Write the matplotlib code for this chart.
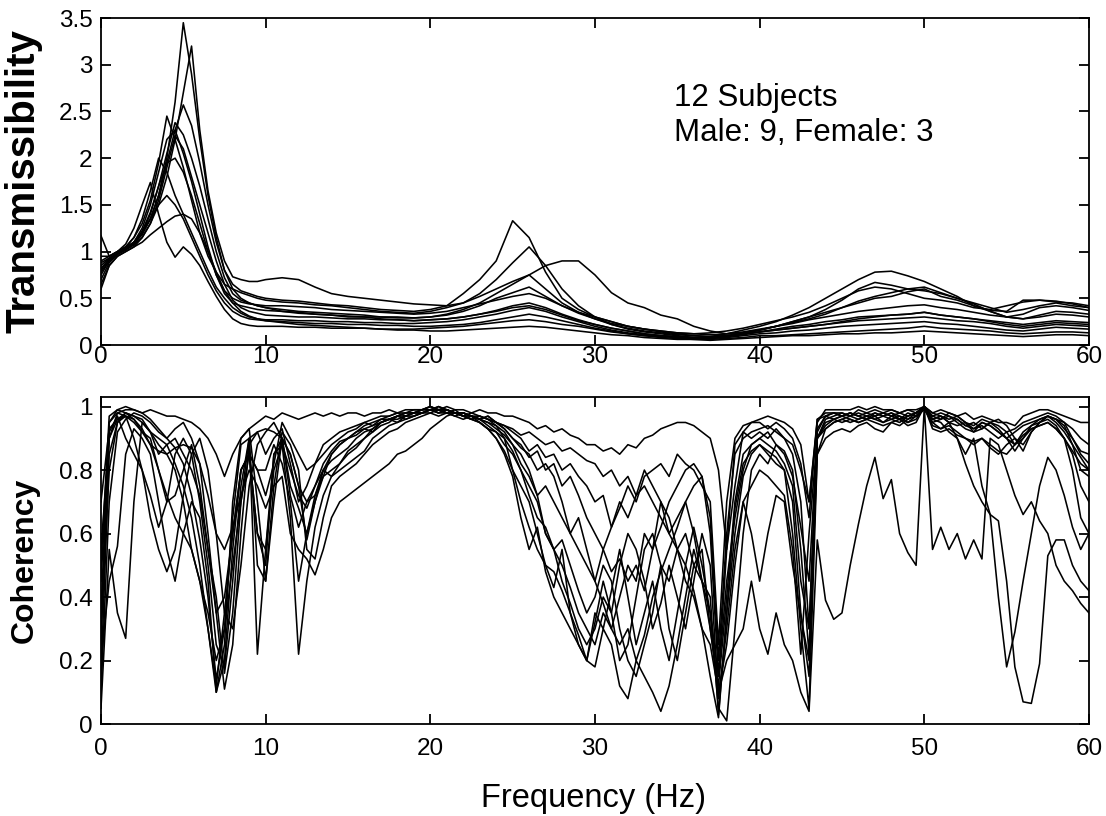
import numpy as np
import matplotlib
matplotlib.use("Agg")
import matplotlib.pyplot as plt

plt.rcParams['font.family'] = ['Liberation Sans', 'DejaVu Sans']

# ---------------- frequency grids ----------------
freq_T = np.concatenate([np.arange(0, 10.01, 0.5), np.arange(11, 61, 1)])   # 71 points
freq_C = np.arange(0, 60.01, 0.5)                                            # 121 points

# ---------------- transmissibility (12 subjects) ----------------
T1 = [0.85,0.93,0.98,1.02,1.08,1.18,1.35,1.6,2.0,2.6,3.45,2.9,2.2,1.6,1.15,0.8,0.6,0.5,0.45,0.42,0.4,
      0.36,0.35,0.33,0.32,0.3,0.3,0.28,0.27,0.26,0.27,
      0.28,0.3,0.33,0.36,0.4,0.42,0.38,0.32,0.26,0.22,
      0.18,0.15,0.12,0.1,0.08,0.07,0.08,0.1,0.12,0.14,
      0.16,0.18,0.2,0.22,0.25,0.28,0.3,0.32,0.33,0.35,
      0.32,0.3,0.28,0.25,0.22,0.2,0.22,0.24,0.23,0.22]
T2 = [0.78,0.9,0.97,1.02,1.07,1.15,1.3,1.5,1.8,2.2,2.7,3.2,2.3,1.65,1.2,0.9,0.73,0.7,0.68,0.68,0.7,
      0.72,0.7,0.62,0.55,0.52,0.5,0.48,0.46,0.44,0.43,
      0.42,0.45,0.55,0.7,0.88,1.05,0.85,0.6,0.42,0.3,
      0.22,0.17,0.14,0.12,0.1,0.08,0.07,0.09,0.12,0.16,
      0.2,0.24,0.28,0.33,0.4,0.47,0.52,0.56,0.6,0.62,
      0.56,0.5,0.44,0.36,0.3,0.33,0.4,0.42,0.4,0.37]
T3 = [0.9,0.95,1.0,1.05,1.1,1.2,1.35,1.6,1.95,2.3,2.57,2.35,1.95,1.5,1.1,0.8,0.65,0.58,0.55,0.52,0.5,
      0.48,0.47,0.45,0.43,0.42,0.4,0.38,0.37,0.36,0.38,
      0.42,0.55,0.7,0.9,1.33,1.15,0.78,0.5,0.38,0.3,
      0.25,0.2,0.17,0.14,0.12,0.1,0.09,0.12,0.16,0.2,
      0.25,0.32,0.4,0.5,0.6,0.7,0.78,0.79,0.74,0.68,
      0.6,0.52,0.42,0.37,0.36,0.48,0.48,0.46,0.45,0.42]
T4 = [1.17,0.95,1.0,1.05,1.15,1.3,1.55,1.95,2.45,2.2,1.9,1.55,1.2,0.95,0.78,0.65,0.6,0.56,0.53,0.5,0.48,
      0.46,0.45,0.43,0.42,0.4,0.38,0.36,0.35,0.34,0.36,
      0.4,0.45,0.52,0.6,0.68,0.75,0.85,0.9,0.9,0.75,
      0.56,0.45,0.4,0.32,0.28,0.2,0.15,0.12,0.13,0.16,
      0.2,0.25,0.3,0.38,0.48,0.6,0.67,0.64,0.6,0.58,
      0.55,0.5,0.45,0.4,0.35,0.38,0.42,0.45,0.42,0.4]
T5 = [0.7,0.88,0.97,1.02,1.08,1.2,1.4,1.7,2.05,2.38,2.25,2.0,1.7,1.35,1.0,0.72,0.55,0.48,0.45,0.42,0.4,
      0.38,0.36,0.35,0.34,0.33,0.32,0.3,0.3,0.29,0.3,
      0.33,0.38,0.45,0.55,0.65,0.75,0.6,0.45,0.35,0.28,
      0.22,0.18,0.15,0.13,0.11,0.1,0.09,0.1,0.13,0.16,
      0.2,0.25,0.3,0.35,0.4,0.45,0.5,0.52,0.57,0.6,
      0.52,0.48,0.42,0.36,0.3,0.28,0.32,0.36,0.35,0.33]
T6 = [0.75,0.9,0.98,1.03,1.1,1.25,1.5,1.85,2.2,2.3,2.05,1.75,1.4,1.05,0.75,0.55,0.45,0.42,0.4,0.38,0.37,
      0.36,0.34,0.33,0.32,0.31,0.3,0.3,0.29,0.29,0.3,
      0.32,0.36,0.42,0.5,0.56,0.62,0.52,0.42,0.34,0.28,
      0.23,0.2,0.17,0.15,0.13,0.12,0.11,0.12,0.14,0.17,
      0.2,0.23,0.27,0.3,0.33,0.36,0.38,0.4,0.42,0.43,
      0.4,0.38,0.35,0.32,0.3,0.28,0.3,0.33,0.32,0.3]
T7 = [0.65,0.85,0.95,1.0,1.05,1.15,1.3,1.55,1.9,2.24,2.1,1.8,1.5,1.2,0.9,0.65,0.48,0.4,0.36,0.34,0.32,
      0.31,0.3,0.3,0.29,0.28,0.28,0.27,0.27,0.26,0.27,
      0.28,0.3,0.33,0.37,0.42,0.45,0.4,0.33,0.27,0.22,
      0.18,0.15,0.12,0.1,0.09,0.08,0.08,0.09,0.11,0.14,
      0.17,0.2,0.22,0.25,0.27,0.3,0.31,0.32,0.33,0.35,
      0.32,0.3,0.28,0.26,0.24,0.22,0.24,0.26,0.25,0.24]
T8 = [0.8,0.92,0.98,1.05,1.15,1.35,1.65,2.0,1.85,1.6,1.4,1.2,1.0,0.8,0.62,0.5,0.4,0.34,0.3,0.28,0.27,
      0.27,0.26,0.26,0.25,0.25,0.24,0.24,0.23,0.23,0.24,
      0.25,0.27,0.3,0.33,0.37,0.4,0.36,0.3,0.25,0.2,
      0.16,0.13,0.11,0.1,0.09,0.08,0.09,0.1,0.12,0.14,
      0.16,0.18,0.2,0.22,0.24,0.26,0.27,0.28,0.29,0.3,
      0.28,0.26,0.25,0.23,0.2,0.18,0.2,0.22,0.21,0.2]
T9 = [0.95,0.95,1.0,1.08,1.25,1.5,1.74,1.4,1.1,0.94,1.05,0.97,0.85,0.68,0.52,0.38,0.28,0.23,0.21,0.2,0.2,
      0.2,0.19,0.19,0.18,0.18,0.18,0.17,0.17,0.17,0.18,
      0.19,0.2,0.22,0.24,0.26,0.27,0.25,0.22,0.2,0.17,
      0.14,0.12,0.1,0.09,0.08,0.07,0.07,0.08,0.1,0.12,
      0.13,0.15,0.16,0.18,0.2,0.21,0.22,0.23,0.24,0.25,
      0.23,0.22,0.2,0.18,0.16,0.15,0.17,0.19,0.18,0.17]
T10 = [0.88,0.93,0.98,1.03,1.1,1.2,1.35,1.5,1.6,1.5,1.35,1.15,0.95,0.75,0.58,0.45,0.36,0.31,0.28,0.27,0.26,
       0.25,0.24,0.23,0.23,0.22,0.22,0.21,0.21,0.2,0.2,
       0.21,0.22,0.24,0.27,0.3,0.33,0.3,0.26,0.22,0.18,
       0.15,0.12,0.1,0.08,0.07,0.06,0.06,0.07,0.08,0.1,
       0.1,0.11,0.12,0.13,0.14,0.15,0.16,0.17,0.18,0.2,
       0.18,0.17,0.16,0.15,0.13,0.12,0.13,0.14,0.14,0.13]
T11 = [0.6,0.85,0.95,1.0,1.05,1.1,1.18,1.25,1.32,1.38,1.4,1.35,1.2,1.0,0.78,0.58,0.45,0.36,0.31,0.28,0.26,
       0.24,0.22,0.21,0.2,0.19,0.18,0.17,0.16,0.16,0.15,
       0.15,0.16,0.17,0.18,0.19,0.2,0.19,0.17,0.15,0.13,
       0.11,0.1,0.08,0.07,0.06,0.06,0.05,0.06,0.07,0.08,
       0.09,0.1,0.1,0.11,0.12,0.12,0.13,0.13,0.14,0.15,
       0.14,0.13,0.12,0.11,0.1,0.09,0.1,0.11,0.11,0.1]
T12 = [0.82,0.92,0.98,1.03,1.1,1.22,1.42,1.7,1.95,2.0,1.85,1.6,1.3,1.0,0.75,0.58,0.5,0.46,0.44,0.43,0.42,
       0.42,0.41,0.4,0.38,0.37,0.36,0.35,0.34,0.33,0.34,
       0.36,0.4,0.44,0.48,0.52,0.55,0.5,0.42,0.35,0.3,
       0.25,0.2,0.17,0.15,0.13,0.12,0.13,0.15,0.18,0.22,
       0.26,0.3,0.35,0.42,0.5,0.58,0.62,0.6,0.55,0.5,
       0.48,0.45,0.4,0.38,0.42,0.46,0.48,0.47,0.44,0.4]
trans_curves = [T1, T2, T3, T4, T5, T6, T7, T8, T9, T10, T11, T12]

# ---------------- coherency (12 subjects), 0.5 Hz steps ----------------
K1 = [0.55,0.9,0.98,0.99,0.99,0.98,0.99,0.98,0.97,0.97,
      0.96,0.95,0.93,0.9,0.85,0.78,0.85,0.9,0.93,0.95,
      0.97,0.96,0.98,0.97,0.96,0.97,0.98,0.97,0.98,0.97,
      0.98,0.98,0.97,0.98,0.98,0.99,0.98,0.99,0.99,0.99,
      1.0,0.99,1.0,0.99,0.99,0.98,0.99,0.98,0.98,0.97,
      0.97,0.96,0.95,0.93,0.94,0.92,0.93,0.91,0.9,0.88,
      0.88,0.86,0.87,0.85,0.88,0.87,0.9,0.91,0.93,0.94,
      0.95,0.95,0.94,0.92,0.9,0.8,0.55,0.75,0.92,0.95,
      0.96,0.97,0.96,0.95,0.93,0.88,0.7,0.95,0.99,0.99,
      0.99,0.99,1.0,0.99,1.0,0.99,0.99,0.98,0.99,0.98,
      1.0,0.98,0.99,0.98,0.97,0.98,0.96,0.97,0.96,0.95,
      0.95,0.94,0.97,0.98,0.99,0.99,0.98,0.97,0.96,0.95,
      0.95]
K2 = [0.05,0.55,0.35,0.27,0.7,0.95,0.92,0.88,0.85,0.8,
      0.7,0.55,0.45,0.3,0.12,0.35,0.6,0.8,0.85,0.6,
      0.5,0.85,0.9,0.75,0.68,0.6,0.7,0.8,0.85,0.88,
      0.9,0.92,0.93,0.92,0.95,0.96,0.95,0.97,0.97,0.98,
      0.99,0.98,0.98,0.97,0.98,0.97,0.96,0.95,0.94,0.92,
      0.88,0.85,0.8,0.72,0.6,0.55,0.58,0.5,0.42,0.35,
      0.4,0.5,0.45,0.3,0.2,0.15,0.25,0.35,0.5,0.45,
      0.55,0.5,0.42,0.3,0.15,0.02,0.35,0.6,0.78,0.85,
      0.88,0.86,0.84,0.8,0.6,0.3,0.05,0.85,0.9,0.92,
      0.93,0.92,0.94,0.95,0.93,0.92,0.95,0.94,0.96,0.97,
      0.99,0.95,0.96,0.97,0.95,0.93,0.92,0.95,0.94,0.92,
      0.9,0.88,0.92,0.94,0.95,0.96,0.94,0.9,0.85,0.75,
      0.7]
K3 = [0.2,0.45,0.56,0.85,0.93,0.9,0.85,0.7,0.55,0.45,
      0.6,0.7,0.65,0.45,0.1,0.2,0.55,0.8,0.85,0.8,
      0.8,0.88,0.82,0.7,0.45,0.6,0.72,0.8,0.78,0.82,
      0.86,0.88,0.9,0.92,0.94,0.95,0.97,0.96,0.97,0.98,
      0.98,0.99,0.98,0.99,0.97,0.96,0.95,0.93,0.92,0.9,
      0.8,0.75,0.7,0.6,0.5,0.48,0.42,0.35,0.28,0.2,
      0.32,0.45,0.35,0.2,0.25,0.4,0.55,0.6,0.5,0.3,
      0.2,0.35,0.5,0.55,0.3,0.1,0.25,0.5,0.7,0.75,
      0.8,0.78,0.75,0.72,0.55,0.22,0.6,0.9,0.93,0.95,
      0.96,0.97,0.98,0.97,0.96,0.97,0.98,0.96,0.97,0.98,
      1.0,0.97,0.96,0.98,0.97,0.95,0.93,0.94,0.92,0.9,
      0.92,0.93,0.95,0.96,0.97,0.98,0.97,0.95,0.93,0.9,
      0.88]
K4 = [0.3,0.8,0.95,0.97,0.9,0.8,0.65,0.55,0.48,0.55,
      0.72,0.85,0.9,0.8,0.6,0.35,0.3,0.5,0.75,0.88,
      0.92,0.95,0.9,0.85,0.75,0.7,0.72,0.78,0.8,0.82,
      0.85,0.87,0.9,0.93,0.95,0.96,0.97,0.98,0.98,0.99,
      1.0,0.99,0.99,0.98,0.98,0.97,0.97,0.96,0.95,0.93,
      0.9,0.87,0.85,0.8,0.82,0.78,0.7,0.6,0.65,0.55,
      0.45,0.55,0.62,0.7,0.65,0.72,0.8,0.75,0.7,0.6,
      0.65,0.7,0.6,0.45,0.3,0.12,0.4,0.7,0.85,0.88,
      0.9,0.92,0.88,0.85,0.78,0.62,0.45,0.92,0.97,0.98,
      0.97,0.98,0.97,0.98,0.99,0.98,0.97,0.98,0.99,0.99,
      1.0,0.97,0.98,0.97,0.96,0.94,0.95,0.93,0.95,0.96,
      0.94,0.9,0.88,0.92,0.95,0.97,0.96,0.94,0.88,0.8,
      0.78]
K5 = [0.45,0.92,0.97,0.9,0.85,0.8,0.72,0.62,0.7,0.85,
      0.9,0.85,0.7,0.5,0.25,0.18,0.45,0.75,0.9,0.92,
      0.85,0.9,0.93,0.82,0.7,0.75,0.82,0.85,0.88,0.9,
      0.92,0.93,0.95,0.94,0.96,0.97,0.98,0.97,0.98,0.99,
      0.99,1.0,0.99,0.98,0.98,0.97,0.96,0.97,0.95,0.93,
      0.9,0.88,0.84,0.86,0.8,0.82,0.75,0.78,0.72,0.65,
      0.6,0.55,0.48,0.52,0.45,0.5,0.42,0.55,0.62,0.7,
      0.75,0.8,0.82,0.78,0.6,0.15,0.55,0.88,0.92,0.9,
      0.92,0.9,0.93,0.9,0.85,0.7,0.3,0.9,0.96,0.97,
      0.98,0.97,0.96,0.97,0.98,0.97,0.96,0.95,0.97,0.98,
      1.0,0.96,0.97,0.95,0.94,0.95,0.92,0.93,0.95,0.94,
      0.92,0.88,0.9,0.93,0.94,0.95,0.93,0.9,0.86,0.82,
      0.8]
K6 = [0.15,0.85,0.95,0.98,0.97,0.95,0.92,0.9,0.88,0.82,
      0.75,0.65,0.5,0.3,0.1,0.25,0.7,0.9,0.93,0.7,
      0.45,0.75,0.92,0.88,0.8,0.55,0.52,0.65,0.75,0.78,
      0.8,0.82,0.85,0.88,0.9,0.92,0.93,0.95,0.96,0.97,
      0.98,0.97,0.98,0.97,0.96,0.97,0.95,0.93,0.9,0.85,
      0.78,0.65,0.55,0.62,0.48,0.4,0.35,0.3,0.25,0.2,
      0.18,0.3,0.25,0.12,0.08,0.2,0.15,0.1,0.04,0.12,
      0.25,0.4,0.55,0.45,0.35,0.05,0.01,0.3,0.6,0.8,
      0.85,0.82,0.88,0.86,0.8,0.55,0.22,0.93,0.97,0.96,
      0.97,0.96,0.95,0.96,0.97,0.95,0.96,0.97,0.95,0.96,
      1.0,0.95,0.93,0.94,0.92,0.9,0.88,0.9,0.87,0.85,
      0.88,0.9,0.86,0.92,0.95,0.97,0.96,0.95,0.9,0.85,
      0.82]
K7 = [0.3,0.9,0.96,0.98,0.96,0.93,0.88,0.8,0.72,0.65,
      0.6,0.55,0.45,0.35,0.2,0.3,0.5,0.7,0.85,0.8,
      0.72,0.82,0.95,0.9,0.85,0.8,0.82,0.88,0.9,0.92,
      0.93,0.94,0.95,0.96,0.97,0.97,0.98,0.98,0.99,0.99,
      0.99,1.0,0.99,0.98,0.98,0.97,0.96,0.94,0.92,0.88,
      0.85,0.8,0.75,0.7,0.6,0.55,0.5,0.43,0.35,0.3,
      0.25,0.35,0.3,0.4,0.5,0.45,0.6,0.55,0.7,0.65,
      0.55,0.45,0.4,0.3,0.25,0.1,0.2,0.25,0.3,0.45,
      0.3,0.22,0.35,0.25,0.2,0.1,0.04,0.58,0.39,0.33,
      0.35,0.5,0.63,0.75,0.84,0.71,0.77,0.6,0.54,0.5,
      1.0,0.55,0.62,0.55,0.6,0.52,0.58,0.52,0.9,0.88,
      0.8,0.72,0.66,0.7,0.64,0.6,0.5,0.45,0.42,0.38,
      0.35]
K8 = [0.1,0.7,0.92,0.96,0.98,0.97,0.95,0.92,0.9,0.93,
      0.95,0.9,0.82,0.6,0.35,0.11,0.25,0.6,0.88,0.92,
      0.93,0.92,0.9,0.72,0.62,0.7,0.75,0.82,0.86,0.89,
      0.9,0.92,0.94,0.95,0.96,0.96,0.97,0.98,0.98,0.99,
      1.0,0.99,0.98,0.98,0.97,0.97,0.96,0.95,0.93,0.91,
      0.88,0.82,0.78,0.72,0.75,0.7,0.65,0.6,0.55,0.5,
      0.45,0.38,0.3,0.25,0.3,0.2,0.28,0.4,0.48,0.55,
      0.62,0.7,0.75,0.78,0.65,0.2,0.6,0.85,0.9,0.92,
      0.93,0.94,0.92,0.9,0.88,0.8,0.7,0.96,0.98,0.98,
      0.97,0.98,0.97,0.96,0.97,0.98,0.97,0.96,0.98,0.97,
      1.0,0.96,0.95,0.92,0.9,0.82,0.75,0.7,0.66,0.64,
      0.45,0.18,0.07,0.065,0.19,0.53,0.58,0.58,0.5,0.45,
      0.42]
K9 = [0.35,0.95,0.99,0.98,0.97,0.96,0.92,0.85,0.88,0.9,
      0.85,0.8,0.72,0.55,0.4,0.16,0.35,0.7,0.9,0.22,
      0.55,0.8,0.88,0.8,0.72,0.68,0.75,0.8,0.83,0.85,
      0.87,0.9,0.92,0.93,0.95,0.96,0.96,0.97,0.98,0.98,
      0.99,0.98,0.99,0.98,0.97,0.98,0.97,0.96,0.94,0.9,
      0.86,0.8,0.72,0.65,0.62,0.55,0.45,0.38,0.3,0.25,
      0.3,0.4,0.35,0.5,0.6,0.55,0.45,0.3,0.38,0.5,
      0.4,0.3,0.45,0.6,0.5,0.08,0.3,0.55,0.7,0.6,
      0.45,0.6,0.72,0.7,0.5,0.34,0.2,0.85,0.93,0.95,
      0.96,0.95,0.96,0.97,0.96,0.95,0.97,0.96,0.95,0.97,
      1.0,0.94,0.93,0.95,0.9,0.85,0.9,0.75,0.66,0.4,
      0.18,0.29,0.45,0.6,0.75,0.84,0.8,0.72,0.62,0.55,
      0.6]
K10 = [0.25,0.95,0.98,0.97,0.95,0.92,0.9,0.8,0.7,0.72,
       0.8,0.88,0.75,0.55,0.35,0.4,0.6,0.8,0.85,0.6,
       0.55,0.85,0.88,0.65,0.22,0.45,0.62,0.72,0.78,0.8,
       0.82,0.84,0.86,0.9,0.92,0.94,0.95,0.96,0.97,0.98,
       0.99,0.98,0.99,0.98,0.97,0.96,0.97,0.96,0.95,0.94,
       0.92,0.9,0.86,0.88,0.84,0.85,0.8,0.82,0.78,0.75,
       0.7,0.72,0.62,0.68,0.75,0.7,0.78,0.8,0.82,0.78,
       0.85,0.82,0.8,0.75,0.7,0.25,0.7,0.9,0.94,0.95,
       0.95,0.93,0.95,0.93,0.9,0.82,0.65,0.96,0.97,0.98,
       0.98,0.97,0.99,0.98,0.97,0.98,0.99,0.98,0.97,0.98,
       1.0,0.98,0.97,0.96,0.97,0.95,0.94,0.96,0.95,0.93,
       0.9,0.86,0.9,0.94,0.96,0.97,0.95,0.92,0.88,0.84,
       0.8]
K11 = [0.5,0.97,0.99,1.0,0.99,0.98,0.96,0.93,0.9,0.87,
       0.82,0.72,0.58,0.4,0.14,0.3,0.65,0.88,0.9,0.5,
       0.45,0.7,0.9,0.85,0.75,0.58,0.7,0.78,0.85,0.88,
       0.9,0.91,0.93,0.94,0.95,0.96,0.97,0.97,0.98,0.98,
       0.99,0.99,0.98,0.98,0.97,0.96,0.95,0.93,0.9,0.86,
       0.8,0.7,0.62,0.55,0.5,0.43,0.55,0.35,0.25,0.2,
       0.35,0.3,0.42,0.55,0.4,0.25,0.35,0.45,0.3,0.2,
       0.35,0.5,0.62,0.5,0.35,0.15,0.45,0.65,0.8,0.88,
       0.9,0.88,0.86,0.82,0.75,0.45,0.3,0.9,0.95,0.96,
       0.95,0.96,0.95,0.96,0.95,0.94,0.95,0.96,0.94,0.95,
       1.0,0.93,0.92,0.93,0.91,0.9,0.89,0.9,0.88,0.86,
       0.85,0.88,0.91,0.93,0.94,0.95,0.93,0.9,0.8,0.65,
       0.6]
K12 = [0.7,0.93,0.96,0.97,0.96,0.92,0.88,0.86,0.85,0.87,
       0.88,0.87,0.82,0.72,0.6,0.55,0.62,0.72,0.8,0.75,
       0.68,0.75,0.78,0.6,0.55,0.52,0.47,0.55,0.65,0.7,
       0.72,0.74,0.76,0.78,0.8,0.82,0.85,0.86,0.88,0.9,
       0.93,0.95,0.97,0.98,0.98,0.97,0.96,0.97,0.95,0.94,
       0.93,0.91,0.92,0.9,0.88,0.89,0.86,0.87,0.85,0.83,
       0.82,0.78,0.8,0.75,0.78,0.72,0.75,0.7,0.65,0.6,
       0.55,0.6,0.5,0.45,0.4,0.03,0.35,0.68,0.82,0.86,
       0.88,0.85,0.82,0.8,0.7,0.35,0.15,0.9,0.94,0.96,
       0.97,0.98,0.97,0.96,0.98,0.97,0.98,0.97,0.96,0.98,
       1.0,0.96,0.97,0.95,0.96,0.94,0.93,0.95,0.94,0.92,
       0.9,0.92,0.94,0.95,0.96,0.97,0.96,0.93,0.9,0.86,
       0.85]
coh_curves = [K1, K2, K3, K4, K5, K6, K7, K8, K9, K10, K11, K12]

x_ticks = [0, 10, 20, 30, 40, 50, 60]
trans_ticks = [0, 0.5, 1, 1.5, 2, 2.5, 3, 3.5]
trans_ticklabels = ['0', '0.5', '1', '1.5', '2', '2.5', '3', '3.5']
coh_ticks = [0, 0.2, 0.4, 0.6, 0.8, 1.0]
coh_ticklabels = ['0', '0.2', '0.4', '0.6', '0.8', '1']

# ---------------- figure ----------------
fig = plt.figure(figsize=(11.06, 8.16), dpi=100)
ax1 = fig.add_axes([0.0913, 0.5772, 0.8933, 0.4007])
ax2 = fig.add_axes([0.0913, 0.1127, 0.8933, 0.4007])

lw = 1.15
for c in trans_curves:
    ax1.plot(freq_T, c, color='black', lw=lw)
for c in coh_curves:
    ax2.plot(freq_C, c, color='black', lw=lw)

for ax in (ax1, ax2):
    ax.set_xlim(0, 60)
    ax.set_xticks(x_ticks)
    ax.set_xticklabels([str(t) for t in x_ticks])
    ax.tick_params(direction='in', length=7, width=1.3, top=True, right=True,
                   labelsize=17.5)
    for s in ax.spines.values():
        s.set_linewidth(1.3)

ax1.set_ylim(0, 3.5)
ax1.set_yticks(trans_ticks)
ax1.set_yticklabels(trans_ticklabels)
ax1.tick_params(axis='x', pad=1)
ax1.tick_params(axis='y', pad=6)

ax2.set_ylim(0, 1.03)
ax2.set_yticks(coh_ticks)
ax2.set_yticklabels(coh_ticklabels)
ax2.tick_params(axis='x', pad=10)
ax2.tick_params(axis='y', pad=6)

ax1.set_ylabel('Transmissibility', fontsize=29, fontweight='bold')
ax1.yaxis.set_label_coords(-0.059, 0.5)
ax2.set_ylabel('Coherency', fontsize=23, fontweight='bold')
ax2.yaxis.set_label_coords(-0.062, 0.5)

fig.text(0.537, 0.021, 'Frequency (Hz)', ha='center', va='center', fontsize=23.5)

ax1.text(34.8, 2.8, '12 Subjects\nMale: 9, Female: 3', ha='left', va='top',
         fontsize=22.5, linespacing=1.2)

fig.savefig('out.png', dpi=100)
